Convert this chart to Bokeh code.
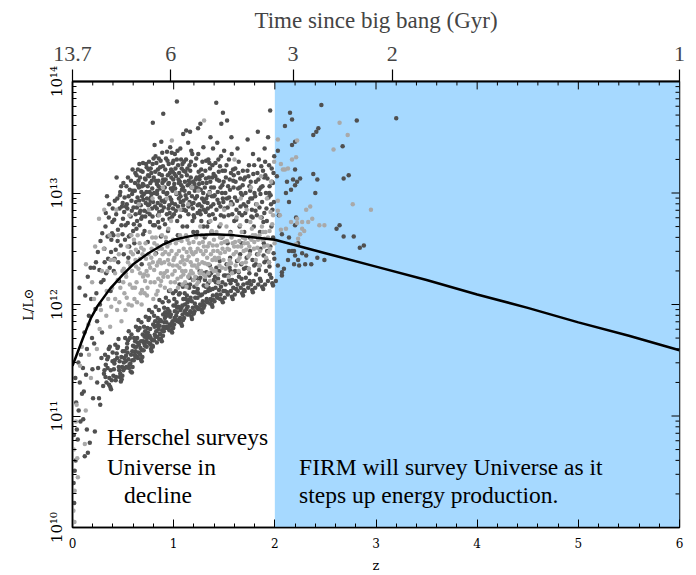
from bokeh.plotting import figure
from bokeh.models import (ColumnDataSource, LinearAxis, LogAxis, FixedTicker,
                          BoxAnnotation, Label, CustomJSTickFormatter)
from bokeh.embed import file_html
from bokeh.resources import INLINE

# ---------------- data (z, log10 L/Lsun) ----------------
curve_z = [0.0, 0.05, 0.1, 0.18, 0.25, 0.37, 0.5, 0.6, 0.75, 0.9, 1.0, 1.2, 1.4,
           1.6, 1.8, 2.0, 2.5, 3.0, 3.5, 4.0, 4.5, 5.0, 5.5, 6.0]
curve_logL = [11.45, 11.57, 11.69, 11.875, 11.99, 12.14, 12.27, 12.36, 12.46, 12.54,
              12.58, 12.62, 12.63, 12.62, 12.60, 12.58, 12.46, 12.34, 12.22, 12.09,
              11.97, 11.84, 11.72, 11.59]

dark_lowz = [
    (0.008, 10.05), (0.017, 10.22), (0.011, 10.40), (0.031, 10.60), (0.022, 10.51), (0.043, 10.88),
    (0.052, 10.79), (0.061, 11.05), (0.072, 11.30), (0.083, 11.55), (0.069, 12.15), (0.094, 11.20),
    (0.028, 11.34), (0.079, 10.95), (0.103, 11.43), (0.134, 11.37), (0.106, 10.97), (0.121, 10.64),
    (0.152, 10.67), (0.171, 10.76), (0.143, 11.60), (0.118, 11.75), (0.162, 11.90), (0.184, 12.05),
    (0.193, 11.70), (0.151, 12.25), (0.179, 12.33), (0.112, 11.22), (0.212, 12.33), (0.203, 11.16),
    (0.221, 10.86), (0.253, 11.43), (0.262, 11.16), (0.274, 11.10), (0.214, 11.65), (0.243, 11.85),
    (0.271, 12.00), (0.232, 12.38), (0.251, 12.47), (0.283, 12.20), (0.292, 11.75), (0.236, 12.10),
    (0.277, 12.57), (0.294, 12.64), (0.142, 10.88), (0.244, 11.30), (0.013, 10.83), (0.036, 11.12),
    (0.058, 11.48), (0.126, 12.08), (0.197, 11.42), (0.286, 11.52), (0.266, 12.31), (0.227, 11.96),
]

dark_band = [
    (0.303, 11.27), (0.347, 11.43), (0.381, 11.24), (0.322, 11.55), (0.364, 11.34), (0.395, 11.49),
    (0.336, 11.30), (0.358, 11.60), (0.311, 11.38), (0.373, 11.26), (0.329, 11.46), (0.388, 11.32),
    (0.352, 11.53), (0.316, 11.41), (0.369, 11.62),
    (0.404, 11.36), (0.441, 11.52), (0.486, 11.33), (0.423, 11.64), (0.462, 11.41), (0.497, 11.58),
    (0.431, 11.35), (0.455, 11.69), (0.414, 11.47), (0.478, 11.31), (0.437, 11.56), (0.491, 11.44),
    (0.449, 11.62), (0.418, 11.50), (0.472, 11.38), (0.466, 11.49),
    (0.502, 11.41), (0.544, 11.57), (0.587, 11.39), (0.521, 11.70), (0.563, 11.46), (0.598, 11.63),
    (0.533, 11.44), (0.556, 11.76), (0.512, 11.52), (0.575, 11.40), (0.538, 11.61), (0.591, 11.50),
    (0.549, 11.68), (0.517, 11.58), (0.571, 11.47), (0.583, 11.73), (0.526, 11.49),
    (0.606, 11.50), (0.643, 11.66), (0.684, 11.49), (0.627, 11.80), (0.661, 11.56), (0.694, 11.73),
    (0.635, 11.53), (0.652, 11.86), (0.613, 11.62), (0.676, 11.51), (0.639, 11.70), (0.688, 11.59),
    (0.648, 11.77), (0.619, 11.67), (0.668, 11.55), (0.681, 11.84), (0.624, 11.58), (0.657, 11.64),
    (0.703, 11.59), (0.745, 11.75), (0.782, 11.58), (0.724, 11.89), (0.766, 11.65), (0.797, 11.82),
    (0.733, 11.62), (0.757, 11.95), (0.712, 11.71), (0.776, 11.60), (0.741, 11.79), (0.789, 11.68),
    (0.751, 11.86), (0.718, 11.76), (0.771, 11.64), (0.786, 11.93), (0.727, 11.67), (0.762, 11.72),
    (0.805, 11.68), (0.846, 11.84), (0.883, 11.67), (0.822, 11.98), (0.864, 11.74), (0.896, 11.91),
    (0.838, 11.71), (0.859, 12.04), (0.811, 11.80), (0.874, 11.69), (0.842, 11.88), (0.887, 11.77),
    (0.853, 11.95), (0.817, 11.85), (0.869, 11.73), (0.891, 12.02), (0.828, 11.76), (0.861, 11.81),
    (0.902, 11.76), (0.944, 11.92), (0.985, 11.75), (0.923, 12.06), (0.961, 11.82), (0.998, 11.99),
    (0.936, 11.79), (0.954, 12.12), (0.913, 11.88), (0.977, 11.77), (0.941, 11.96), (0.989, 11.85),
    (0.951, 12.03), (0.916, 11.93), (0.968, 11.81), (0.994, 12.10), (0.927, 11.84), (0.966, 11.89),
    (1.004, 11.82), (1.046, 11.98), (1.082, 11.81), (1.021, 12.12), (1.063, 11.88), (1.095, 12.05),
    (1.037, 11.85), (1.058, 12.18), (1.011, 11.94), (1.074, 11.83), (1.029, 12.02), (1.088, 11.91),
    (1.052, 12.09), (1.016, 11.99), (1.069, 11.87), (1.091, 12.16), (1.025, 11.90), (1.066, 11.95),
    (1.103, 11.88), (1.147, 12.04), (1.181, 11.87), (1.122, 12.18), (1.164, 11.94), (1.196, 12.11),
    (1.135, 11.91), (1.157, 12.24), (1.112, 12.00), (1.176, 11.89), (1.131, 12.08), (1.189, 11.97),
    (1.153, 12.15), (1.118, 12.05), (1.171, 11.93), (1.192, 12.22), (1.127, 11.96),
    (1.206, 11.94), (1.243, 12.10), (1.284, 11.93), (1.225, 12.24), (1.262, 12.00), (1.297, 12.17),
    (1.234, 11.97), (1.256, 12.30), (1.213, 12.06), (1.277, 11.95), (1.238, 12.14), (1.289, 12.03),
    (1.251, 12.21), (1.219, 12.11), (1.271, 11.99), (1.293, 12.28),
    (1.304, 11.99), (1.346, 12.15), (1.383, 11.98), (1.324, 12.29), (1.365, 12.05), (1.396, 12.22),
    (1.336, 12.02), (1.357, 12.35), (1.312, 12.11), (1.378, 12.00), (1.341, 12.19), (1.388, 12.08),
    (1.352, 12.26), (1.318, 12.16), (1.372, 12.04),
    (1.403, 12.03), (1.444, 12.19), (1.486, 12.02), (1.422, 12.33), (1.463, 12.09), (1.498, 12.26),
    (1.433, 12.06), (1.455, 12.39), (1.414, 12.15), (1.477, 12.04), (1.439, 12.23), (1.491, 12.12),
    (1.451, 12.30), (1.417, 12.20),
    (1.505, 12.06), (1.547, 12.22), (1.584, 12.05), (1.523, 12.36), (1.566, 12.12), (1.597, 12.29),
    (1.535, 12.09), (1.558, 12.42), (1.512, 12.18), (1.576, 12.07), (1.541, 12.26), (1.589, 12.15),
    (1.553, 12.33),
    (1.604, 12.09), (1.645, 12.25), (1.686, 12.08), (1.626, 12.39), (1.663, 12.15), (1.695, 12.32),
    (1.634, 12.12), (1.657, 12.45), (1.614, 12.21), (1.677, 12.10), (1.642, 12.29), (1.689, 12.18),
    (1.703, 12.12), (1.748, 12.28), (1.783, 12.11), (1.721, 12.42), (1.765, 12.18), (1.796, 12.35),
    (1.737, 12.15), (1.755, 12.48), (1.713, 12.24), (1.776, 12.13), (1.742, 12.32),
    (1.806, 12.15), (1.844, 12.31), (1.885, 12.14), (1.825, 12.45), (1.862, 12.21), (1.897, 12.38),
    (1.836, 12.18), (1.858, 12.50), (1.815, 12.27), (1.874, 12.16), (1.849, 12.35),
    (1.903, 12.18), (1.947, 12.34), (1.982, 12.17), (1.924, 12.48), (1.965, 12.24), (1.995, 12.41),
    (1.932, 12.21), (1.956, 12.52), (1.913, 12.30), (1.975, 12.19), (1.941, 12.38),
    (0.458, 11.44), (0.493, 11.36), (0.529, 11.54), (0.558, 11.43), (0.591, 11.58), (0.617, 11.55),
    (0.646, 11.52), (0.672, 11.61), (0.698, 11.67), (0.709, 11.65), (0.737, 11.70), (0.768, 11.78),
    (0.792, 11.63), (0.813, 11.73), (0.834, 11.66), (0.866, 11.86), (0.894, 11.72), (0.908, 11.84),
    (0.931, 11.80), (0.958, 11.94), (0.983, 11.83), (1.008, 11.88), (1.033, 11.93), (1.059, 11.84),
    (1.086, 11.99), (1.108, 11.94), (1.139, 11.98), (1.167, 12.06), (1.194, 11.92), (1.209, 12.01),
    (1.241, 11.96), (1.266, 12.08), (1.298, 12.00), (1.327, 12.05), (1.361, 12.13), (1.392, 12.04),
    (1.427, 12.09), (1.468, 12.16), (1.508, 12.12), (1.562, 12.19), (1.618, 12.14), (1.671, 12.23),
    (1.727, 12.19), (1.791, 12.21),
    (0.326, 11.35), (0.343, 11.51), (0.361, 11.28), (0.378, 11.41), (0.397, 11.57), (0.409, 11.42),
    (0.427, 11.32), (0.444, 11.61), (0.468, 11.35), (0.483, 11.53), (0.507, 11.48), (0.519, 11.43),
    (0.541, 11.65), (0.552, 11.51), (0.568, 11.70), (0.579, 11.55), (0.594, 11.44), (0.609, 11.70),
    (0.621, 11.53), (0.633, 11.62), (0.654, 11.57), (0.664, 11.79), (0.678, 11.67), (0.691, 11.53),
    (0.707, 11.80), (0.716, 11.63), (0.729, 11.73), (0.748, 11.66), (0.759, 11.88), (0.773, 11.70),
    (0.794, 11.62), (0.807, 11.90), (0.819, 11.71), (0.831, 11.81), (0.851, 11.78), (0.857, 11.69),
    (0.877, 11.85), (0.898, 11.80), (0.906, 11.97), (0.919, 11.79), (0.933, 11.90), (0.947, 11.80),
    (0.958, 11.77), (0.973, 11.91), (0.996, 11.79), (1.006, 12.05), (1.019, 11.86), (1.034, 11.97),
    (1.049, 11.86), (1.061, 12.10), (1.077, 11.97), (1.093, 11.86), (1.109, 12.10), (1.124, 11.92),
    (1.137, 12.02), (1.151, 11.91), (1.162, 12.18), (1.179, 12.03), (1.199, 11.92), (1.204, 12.16),
    (1.221, 11.98), (1.236, 12.06), (1.254, 11.96), (1.264, 12.24), (1.281, 12.09), (1.296, 11.97),
    (1.309, 12.22), (1.327, 12.03), (1.339, 12.12), (1.361, 12.01), (1.369, 12.28), (1.386, 12.14),
    (1.408, 12.25), (1.426, 12.07), (1.448, 12.13), (1.459, 12.05), (1.482, 12.20), (1.514, 12.26),
    (1.531, 12.11), (1.562, 12.30), (1.579, 12.22), (1.607, 12.30), (1.632, 12.18), (1.668, 12.36),
    (1.694, 12.13), (1.716, 12.33), (1.752, 12.21), (1.779, 12.40), (1.812, 12.36), (1.853, 12.23),
    (1.889, 12.44), (1.918, 12.40), (1.951, 12.27), (1.988, 12.46),
]

dark_cloud = [
    (0.307, 12.22), (0.352, 12.41), (0.384, 12.58), (0.326, 12.70), (0.368, 12.33), (0.398, 12.86),
    (0.341, 12.97), (0.315, 12.50), (0.377, 12.12), (0.359, 12.78), (0.333, 12.28), (0.391, 12.64),
    (0.408, 12.30), (0.446, 12.57), (0.483, 12.71), (0.427, 12.49), (0.465, 12.86), (0.418, 12.93),
    (0.472, 13.01), (0.494, 12.63), (0.436, 13.14), (0.452, 12.38), (0.499, 12.77), (0.481, 13.06),
    (0.461, 12.21), (0.412, 12.76), (0.443, 12.95), (0.489, 12.88),
    (0.506, 12.45), (0.524, 12.71), (0.542, 12.86), (0.557, 12.61), (0.566, 13.03), (0.583, 12.93),
    (0.594, 13.21), (0.575, 12.79), (0.533, 13.06), (0.552, 12.42), (0.599, 12.66), (0.578, 13.11),
    (0.515, 12.96), (0.561, 12.52), (0.537, 12.90), (0.589, 12.99), (0.548, 13.14), (0.511, 12.83),
    (0.611, 12.55), (0.624, 12.81), (0.643, 12.96), (0.652, 13.11), (0.664, 12.71), (0.681, 13.01),
    (0.693, 13.19), (0.675, 12.89), (0.633, 13.16), (0.698, 12.63), (0.616, 13.02), (0.661, 13.26),
    (0.689, 12.79), (0.647, 12.47), (0.684, 12.36), (0.628, 12.92), (0.657, 13.05), (0.671, 12.84),
    (0.638, 12.75), (0.695, 13.08),
    (0.712, 12.66), (0.724, 12.91), (0.743, 13.06), (0.751, 13.21), (0.763, 12.81), (0.784, 13.11),
    (0.792, 13.26), (0.775, 12.96), (0.733, 13.23), (0.794, 13.63), (0.798, 12.71), (0.716, 13.13),
    (0.762, 13.01), (0.786, 12.86), (0.744, 12.56), (0.801, 13.31), (0.727, 13.26), (0.738, 12.83),
    (0.757, 13.15), (0.771, 12.93), (0.706, 12.99), (0.779, 13.18), (0.766, 12.74),
    (0.811, 13.43), (0.878, 13.46), (0.853, 13.31), (0.871, 13.29), (0.897, 13.71), (0.822, 13.11),
    (0.844, 13.21), (0.862, 12.96), (0.884, 13.16), (0.833, 12.86), (0.851, 13.06), (0.893, 12.76),
    (0.814, 12.71), (0.874, 12.61), (0.842, 12.91), (0.899, 13.01), (0.866, 13.23), (0.826, 12.46),
    (0.838, 13.02), (0.857, 12.83), (0.881, 12.93), (0.818, 13.19), (0.889, 13.09), (0.847, 12.74),
    (0.912, 13.05), (0.924, 13.31), (0.942, 13.16), (0.963, 12.96), (0.981, 13.36), (0.998, 13.29),
    (0.991, 13.19), (0.933, 12.81), (0.951, 13.26), (0.972, 13.04), (0.993, 12.86), (0.914, 12.72),
    (0.966, 13.41), (0.944, 12.66), (0.984, 12.91), (0.905, 13.11), (0.926, 12.56), (0.937, 13.00),
    (0.956, 12.89), (0.977, 13.14), (0.918, 12.94), (0.947, 13.08), (0.988, 13.02), (0.959, 12.77),
    (1.032, 13.82), (1.012, 13.35), (1.023, 13.15), (1.044, 13.25), (1.052, 12.95), (1.061, 13.10),
    (1.073, 13.30), (1.084, 12.85), (1.092, 13.05), (1.098, 13.20), (1.035, 12.75), (1.066, 13.40),
    (1.089, 12.70), (1.014, 12.90), (1.056, 13.00), (1.078, 13.15), (1.041, 12.62), (1.094, 13.53),
    (1.006, 13.08), (1.027, 12.99), (1.048, 13.12), (1.069, 12.92), (1.081, 13.03), (1.018, 13.22),
    (1.111, 13.10), (1.122, 13.30), (1.143, 13.45), (1.152, 13.00), (1.164, 13.20), (1.173, 12.90),
    (1.184, 13.35), (1.192, 13.10), (1.198, 12.80), (1.133, 12.70), (1.156, 13.25), (1.177, 13.05),
    (1.194, 12.65), (1.126, 12.95), (1.162, 13.55), (1.186, 12.75), (1.124, 13.56), (1.104, 12.85),
    (1.138, 13.07), (1.147, 12.88), (1.169, 13.14), (1.181, 12.97), (1.116, 13.19),
    (1.212, 13.25), (1.224, 13.05), (1.243, 13.35), (1.252, 12.90), (1.261, 13.15), (1.273, 12.75),
    (1.284, 13.28), (1.292, 13.00), (1.299, 12.85), (1.232, 12.65), (1.264, 13.62), (1.295, 12.70),
    (1.214, 12.95), (1.255, 13.12), (1.281, 12.95), (1.241, 13.58), (1.206, 13.08), (1.236, 12.82),
    (1.247, 13.19), (1.268, 13.03), (1.277, 12.88), (1.227, 13.14),
    (1.313, 13.20), (1.322, 12.95), (1.343, 13.30), (1.351, 12.80), (1.362, 13.10), (1.374, 12.65),
    (1.383, 13.25), (1.392, 12.90), (1.398, 13.05), (1.332, 12.70), (1.364, 13.50), (1.307, 12.60),
    (1.389, 13.40), (1.326, 13.09), (1.337, 12.86), (1.348, 13.14), (1.356, 13.01), (1.378, 12.97),
    (1.317, 12.83),
    (1.411, 13.15), (1.423, 12.85), (1.442, 13.30), (1.452, 12.70), (1.463, 13.05), (1.474, 12.60),
    (1.483, 13.20), (1.491, 12.92), (1.499, 13.38), (1.431, 13.45), (1.466, 12.80), (1.494, 13.10),
    (1.421, 13.81), (1.487, 13.72), (1.471, 13.62), (1.405, 12.98), (1.436, 13.01), (1.447, 12.91),
    (1.458, 13.24), (1.478, 13.00),
    (1.511, 13.00), (1.522, 13.25), (1.543, 12.80), (1.554, 13.12), (1.562, 12.65), (1.574, 13.35),
    (1.583, 12.90), (1.592, 13.05), (1.599, 12.75), (1.533, 12.55), (1.571, 13.50), (1.528, 13.65),
    (1.505, 12.86), (1.538, 13.06), (1.548, 12.96), (1.566, 13.18), (1.587, 13.21),
    (1.612, 13.10), (1.621, 12.85), (1.643, 13.28), (1.652, 12.70), (1.664, 13.00), (1.673, 12.55),
    (1.684, 13.20), (1.692, 12.90), (1.698, 12.65), (1.631, 13.40), (1.606, 12.96), (1.637, 13.04),
    (1.648, 12.82), (1.658, 13.13), (1.677, 12.98),
    (1.711, 13.00), (1.722, 12.75), (1.744, 13.25), (1.753, 12.60), (1.762, 13.10), (1.773, 12.85),
    (1.784, 13.35), (1.792, 12.70), (1.799, 13.00), (1.731, 13.48), (1.706, 13.14), (1.738, 12.92),
    (1.749, 13.06), (1.768, 12.79), (1.787, 13.17),
    (1.812, 13.10), (1.823, 12.80), (1.842, 13.30), (1.853, 12.65), (1.861, 13.05), (1.874, 12.92),
    (1.883, 13.20), (1.891, 12.55), (1.899, 13.40), (1.832, 13.55), (1.806, 12.97), (1.837, 13.12),
    (1.848, 12.87), (1.866, 13.24), (1.887, 12.74),
    (1.912, 13.00), (1.921, 12.75), (1.943, 13.25), (1.954, 13.74), (1.962, 12.90), (1.971, 13.10),
    (1.983, 12.60), (1.994, 13.33), (1.933, 13.50), (1.976, 12.85), (1.906, 13.16), (1.938, 12.96),
    (1.948, 13.06), (1.966, 12.70), (1.987, 13.18),
    (0.603, 12.87), (0.618, 13.09), (0.632, 12.68), (0.646, 13.21), (0.659, 12.93), (0.667, 13.14),
    (0.679, 12.77), (0.686, 13.06), (0.699, 12.94), (0.704, 13.07), (0.719, 12.79), (0.731, 13.01),
    (0.748, 12.89), (0.756, 13.28), (0.769, 13.09), (0.781, 12.99), (0.791, 12.79), (0.803, 13.14),
    (0.816, 12.88), (0.829, 13.27), (0.836, 12.99), (0.849, 13.11), (0.858, 12.69), (0.869, 13.04),
    (0.886, 12.84), (0.894, 13.24), (0.903, 12.87), (0.917, 13.21), (0.929, 12.99), (0.939, 13.29),
    (0.953, 13.09), (0.961, 12.82), (0.975, 13.21), (0.986, 12.79), (0.996, 13.12), (1.003, 12.81),
    (1.015, 13.04), (1.031, 13.30), (1.043, 12.88), (1.054, 13.18), (1.063, 12.79), (1.076, 13.07),
    (1.087, 13.26), (1.097, 12.93), (1.107, 13.02), (1.121, 12.84), (1.136, 13.22), (1.149, 13.11),
    (1.158, 12.92), (1.171, 13.28), (1.188, 13.05), (1.196, 12.91), (1.203, 12.78), (1.218, 13.12),
    (1.231, 12.97), (1.246, 13.04), (1.259, 12.84), (1.272, 13.21), (1.286, 13.09), (1.297, 12.93),
    (1.308, 13.05), (1.321, 13.29), (1.335, 12.91), (1.347, 12.74), (1.359, 13.22), (1.371, 13.05),
    (1.386, 12.81), (1.395, 13.17), (1.409, 12.77), (1.428, 13.12), (1.446, 13.19), (1.462, 12.88),
    (1.481, 13.07), (1.497, 12.79), (1.516, 13.14), (1.534, 12.87), (1.557, 13.03), (1.579, 12.81),
    (1.594, 13.16), (1.618, 12.76), (1.639, 13.18), (1.661, 12.88), (1.682, 13.07), (1.716, 12.88),
    (1.739, 13.15), (1.758, 12.95), (1.781, 12.78), (1.816, 12.90), (1.846, 13.03), (1.869, 12.78),
    (1.894, 13.14), (1.917, 12.86), (1.945, 13.00), (1.969, 13.22), (1.991, 12.92),
    (0.318, 12.38), (0.329, 12.82), (0.347, 12.61), (0.362, 12.90), (0.381, 12.47), (0.394, 12.74),
    (0.404, 12.62), (0.416, 12.41), (0.432, 12.81), (0.449, 12.67), (0.468, 12.98), (0.477, 12.53),
    (0.496, 12.91), (0.503, 13.09), (0.519, 12.58), (0.528, 12.88), (0.546, 12.73), (0.554, 12.97),
    (0.571, 12.62), (0.586, 12.84), (0.597, 13.02), (0.606, 12.72), (0.621, 13.18), (0.637, 12.87),
    (0.649, 13.07), (0.663, 12.82), (0.676, 13.20), (0.688, 12.97), (0.697, 13.27), (0.709, 12.84),
    (0.722, 13.12), (0.736, 12.95), (0.747, 13.16), (0.759, 12.90), (0.773, 13.22), (0.788, 13.04),
    (0.796, 12.92), (0.808, 13.00), (0.821, 13.33), (0.834, 13.08), (0.845, 12.80), (0.859, 13.17),
    (0.873, 12.89), (0.887, 13.36), (0.896, 13.12), (0.909, 12.92), (0.921, 13.12), (0.934, 13.37),
    (0.949, 12.86), (0.962, 13.18), (0.976, 12.94), (0.989, 13.27), (0.997, 13.05), (1.009, 13.17),
    (1.021, 12.84), (1.038, 13.38), (1.051, 13.09), (1.068, 12.97), (1.079, 13.22), (1.093, 12.89),
    (1.102, 13.28), (1.118, 12.98), (1.131, 13.16), (1.146, 12.81), (1.159, 13.09), (1.174, 13.38),
    (1.189, 12.86), (1.209, 13.02), (1.223, 13.31), (1.238, 12.89), (1.251, 13.08), (1.266, 12.81),
    (1.283, 13.16), (1.294, 13.41), (1.304, 12.92), (1.319, 13.13), (1.338, 12.98), (1.353, 13.27),
    (1.368, 12.88), (1.381, 13.14), (1.397, 12.97), (1.413, 13.27), (1.433, 12.94), (1.449, 13.11),
    (1.468, 13.33), (1.486, 12.95), (1.507, 13.20), (1.527, 12.95), (1.546, 13.30), (1.568, 12.92),
    (1.589, 13.11), (1.609, 13.22), (1.627, 12.93), (1.654, 13.05), (1.676, 12.80), (1.694, 13.12),
    (1.708, 12.82), (1.729, 13.20), (1.756, 13.02), (1.776, 12.95), (1.796, 13.25), (1.809, 12.84),
    (1.828, 13.18), (1.858, 12.99), (1.878, 13.06), (1.896, 12.82), (1.904, 13.28), (1.927, 13.13),
    (1.958, 12.98), (1.981, 13.09),
]

dark_highz = [
    (2.46, 13.79), (2.15, 13.72), (2.17, 13.66), (2.10, 13.60), (2.81, 13.65), (3.20, 13.67),
    (2.43, 13.58), (2.41, 13.55), (2.38, 13.52), (2.20, 13.46), (2.17, 13.43), (2.67, 13.42),
    (2.20, 13.21), (2.38, 13.17), (2.42, 13.12), (2.68, 13.13), (2.73, 13.16), (2.25, 13.13),
    (2.18, 13.12), (2.22, 13.10), (2.12, 13.10), (2.20, 13.07), (2.16, 13.03), (2.11, 13.00),
    (2.40, 13.00), (2.14, 12.92), (2.21, 12.78), (2.20, 12.71), (2.64, 12.71), (2.61, 12.68),
    (2.68, 12.61), (2.78, 12.61), (2.88, 12.53), (2.84, 12.51), (2.14, 12.60), (2.07, 12.63),
    (2.23, 12.55), (2.14, 12.48), (2.17, 12.48), (2.19, 12.48), (2.27, 12.46), (2.20, 12.44),
    (2.31, 12.44), (2.42, 12.42), (2.49, 12.40), (2.23, 12.40), (2.13, 12.40), (2.19, 12.36),
    (2.24, 12.35), (2.30, 12.36), (2.36, 12.36), (2.09, 12.32), (2.07, 12.29), (2.07, 12.26),
    (2.03, 12.35), (2.01, 12.21), (2.03, 13.38), (2.02, 13.15), (2.04, 12.80),
]

light_lowz = [
    (0.009, 10.15), (0.021, 10.33), (0.012, 10.70), (0.034, 10.95), (0.041, 11.10), (0.053, 10.45),
    (0.074, 11.45), (0.182, 11.34), (0.131, 11.05), (0.122, 10.75), (0.133, 12.36), (0.163, 11.55),
    (0.194, 12.20), (0.262, 12.77), (0.241, 11.60), (0.281, 11.95), (0.213, 12.05), (0.291, 12.30),
    (0.019, 10.05), (0.092, 11.62), (0.047, 10.62), (0.157, 11.82), (0.224, 12.52), (0.268, 11.78),
]

light_mid = [
    (0.314, 12.85), (0.353, 12.05), (0.372, 11.80), (0.392, 12.15), (0.334, 11.90), (0.309, 12.50),
    (0.366, 12.62), (0.345, 12.30), (0.383, 11.98),
    (0.422, 12.05), (0.441, 11.95), (0.473, 12.15), (0.493, 12.30), (0.452, 12.62), (0.433, 12.85),
    (0.484, 11.85), (0.411, 12.40), (0.463, 12.02), (0.447, 12.22),
    (0.513, 12.10), (0.531, 12.25), (0.554, 12.00), (0.572, 12.35), (0.593, 12.15), (0.544, 12.52),
    (0.582, 12.62), (0.523, 11.95), (0.562, 12.80), (0.597, 12.45), (0.536, 12.06), (0.567, 12.18),
    (0.507, 12.32), (0.586, 11.99),
    (0.612, 12.05), (0.633, 12.20), (0.652, 12.32), (0.674, 12.10), (0.692, 12.45), (0.623, 12.40),
    (0.644, 12.62), (0.663, 12.55), (0.683, 12.00), (0.698, 12.25), (0.655, 12.90), (0.618, 12.15),
    (0.638, 12.02), (0.669, 12.28), (0.687, 12.13), (0.607, 12.58),
    (0.713, 12.10), (0.732, 12.30), (0.751, 12.45), (0.772, 12.20), (0.794, 12.38), (0.722, 12.55),
    (0.741, 12.15), (0.763, 12.65), (0.782, 12.50), (0.799, 12.05), (0.754, 12.85), (0.791, 12.95),
    (0.708, 12.27), (0.736, 12.08), (0.768, 12.33), (0.727, 12.41),
    (0.812, 12.20), (0.834, 12.35), (0.852, 12.50), (0.873, 12.28), (0.891, 12.45), (0.823, 12.60),
    (0.842, 12.12), (0.863, 12.40), (0.884, 12.62), (0.898, 12.25), (0.856, 12.80), (0.893, 13.05),
    (0.807, 12.31), (0.838, 12.53), (0.868, 12.17), (0.879, 12.37), (0.828, 12.09),
    (0.913, 12.15), (0.934, 12.30), (0.953, 12.45), (0.971, 12.20), (0.992, 12.35), (0.922, 12.60),
    (0.943, 12.25), (0.962, 12.55), (0.982, 13.47), (0.998, 12.40), (0.974, 12.75), (0.932, 12.95),
    (0.907, 12.38), (0.938, 12.52), (0.966, 12.13), (0.987, 12.27), (0.948, 12.68),
    (1.013, 12.20), (1.034, 12.35), (1.052, 12.48), (1.073, 12.25), (1.092, 12.40), (1.022, 12.55),
    (1.043, 12.15), (1.063, 12.62), (1.083, 12.30), (1.099, 12.50), (1.066, 12.85), (1.024, 13.00),
    (1.007, 12.42), (1.038, 12.23), (1.057, 12.33), (1.078, 12.57), (1.088, 12.18),
    (1.113, 12.20), (1.132, 12.40), (1.153, 12.55), (1.172, 12.30), (1.193, 12.45), (1.122, 12.62),
    (1.143, 12.25), (1.164, 12.50), (1.183, 12.35), (1.198, 12.22), (1.144, 12.90), (1.182, 13.05),
    (1.106, 12.36), (1.137, 12.58), (1.158, 12.27), (1.177, 12.47), (1.127, 12.16),
    (1.214, 12.25), (1.232, 12.40), (1.253, 12.55), (1.272, 12.30), (1.293, 12.45), (1.222, 12.60),
    (1.243, 12.20), (1.263, 12.70), (1.283, 12.38), (1.299, 12.52), (1.244, 13.02), (1.301, 13.65),
    (1.207, 12.35), (1.238, 12.50), (1.258, 12.28), (1.277, 12.62), (1.227, 12.18),
    (1.313, 12.25), (1.331, 12.42), (1.353, 12.55), (1.372, 12.32), (1.392, 12.48), (1.322, 12.62),
    (1.343, 12.28), (1.364, 12.75), (1.383, 12.40), (1.398, 12.58), (1.354, 13.00), (1.306, 12.37),
    (1.337, 12.52), (1.358, 12.21), (1.377, 12.66), (1.327, 12.17),
    (1.412, 12.30), (1.434, 12.48), (1.453, 12.35), (1.472, 12.55), (1.492, 12.40), (1.423, 12.65),
    (1.443, 12.20), (1.464, 12.72), (1.483, 12.50), (1.499, 12.85), (1.407, 12.42), (1.438, 12.27),
    (1.458, 12.60), (1.477, 12.33), (1.428, 12.53),
    (1.513, 12.32), (1.532, 12.50), (1.553, 12.40), (1.572, 12.60), (1.593, 12.45), (1.522, 12.70),
    (1.543, 12.25), (1.564, 12.90), (1.583, 12.55), (1.601, 13.30), (1.507, 12.47), (1.538, 12.36),
    (1.558, 12.64), (1.577, 12.28),
    (1.613, 12.35), (1.634, 12.52), (1.652, 12.42), (1.673, 12.65), (1.692, 12.48), (1.622, 12.78),
    (1.643, 12.30), (1.663, 12.95), (1.683, 12.60), (1.607, 12.56), (1.638, 12.40), (1.657, 12.71),
    (1.678, 12.37),
    (1.713, 12.38), (1.732, 12.55), (1.752, 12.45), (1.773, 12.68), (1.793, 12.50), (1.722, 12.85),
    (1.743, 12.32), (1.764, 13.05), (1.782, 12.62), (1.707, 12.59), (1.738, 12.43), (1.758, 12.74),
    (1.812, 12.40), (1.834, 12.58), (1.853, 12.48), (1.872, 12.70), (1.893, 12.52), (1.823, 12.90),
    (1.843, 12.35), (1.864, 13.15), (1.883, 12.65), (1.807, 12.62), (1.838, 12.45), (1.858, 12.78),
    (1.913, 12.42), (1.932, 12.60), (1.953, 12.50), (1.974, 12.72), (1.993, 13.28), (1.922, 12.95),
    (1.942, 12.38), (1.963, 13.10), (1.983, 12.80), (1.997, 12.55), (1.907, 12.65), (1.937, 12.47),
    (1.958, 12.83),
    (0.526, 12.28), (0.577, 12.47), (0.628, 12.34), (0.679, 12.51), (0.717, 12.21), (0.759, 12.36),
    (0.788, 12.60), (0.818, 12.45), (0.848, 12.23), (0.883, 12.50), (0.917, 12.47), (0.957, 12.36),
    (0.994, 12.58), (1.028, 12.45), (1.069, 12.38), (1.096, 12.27), (1.129, 12.47), (1.168, 12.38),
    (1.196, 12.56), (1.233, 12.33), (1.267, 12.48), (1.296, 12.27), (1.334, 12.36), (1.368, 12.45),
    (1.397, 12.30), (1.447, 12.42), (1.488, 12.61), (1.527, 12.57), (1.567, 12.37), (1.617, 12.47),
    (1.667, 12.52), (1.717, 12.49), (1.768, 12.58), (1.827, 12.51), (1.877, 12.58), (1.927, 12.53),
    (0.338, 12.12), (0.376, 12.40), (0.421, 12.28), (0.458, 12.45), (0.502, 12.20), (0.548, 12.38),
    (0.589, 12.30), (0.627, 12.49), (0.667, 12.41), (0.704, 12.49), (0.744, 12.26), (0.779, 12.42),
    (0.809, 12.55), (0.847, 12.38), (0.876, 12.21), (0.909, 12.28), (0.944, 12.40), (0.979, 12.48),
    (1.011, 12.30), (1.047, 12.58), (1.082, 12.43), (1.117, 12.30), (1.148, 12.43), (1.189, 12.28),
    (1.219, 12.47), (1.248, 12.36), (1.289, 12.56), (1.318, 12.48), (1.347, 12.36), (1.387, 12.53),
    (1.418, 12.40), (1.462, 12.46), (1.503, 12.56), (1.548, 12.49), (1.598, 12.52), (1.648, 12.57),
    (1.698, 12.55), (1.748, 12.52), (1.797, 12.56), (1.848, 12.62), (1.898, 12.59), (1.948, 12.66),
]

light_highz = [
    (2.64, 13.63), (2.72, 13.52), (2.58, 13.39), (2.22, 13.47), (2.03, 13.48), (2.21, 13.32),
    (2.17, 13.30), (2.06, 13.26), (2.08, 13.21), (2.10, 13.21), (2.13, 13.22), (2.35, 12.88),
    (2.31, 12.85), (2.77, 12.90), (2.95, 12.85), (2.37, 12.77), (2.22, 12.77), (2.16, 12.74),
    (2.27, 12.74), (2.33, 12.74), (2.22, 12.73), (2.44, 12.71), (2.49, 12.71), (2.27, 12.68),
    (2.29, 12.66), (2.25, 12.63), (2.11, 12.68), (2.06, 12.67), (2.23, 12.59), (2.21, 12.54),
    (2.05, 12.80), (2.03, 12.84), (2.03, 12.93),
]

z_major_ticks = [0, 1, 2, 3, 4, 5, 6]
y_decades = [10, 11, 12, 13, 14]
time_tick_z = [0.0, 0.97, 2.18, 3.16, 6.0]
time_tick_labels = ["13.7", "6", "3", "2", "1"]
firm_z_range = (2.0, 6.0)

# ---------------- figure ----------------
def src(points):
    return ColumnDataSource(dict(z=[pt[0] for pt in points],
                                 L=[10.0 ** pt[1] for pt in points]))

W, H = 690, 575
BL, BR, BT, BB = 72, 11, 81, 44
p = figure(width=W, height=H, x_range=(0, 6), y_range=(1e10, 1e14),
           y_axis_type="log", x_axis_location=None, y_axis_location=None,
           output_backend="svg", toolbar_location=None,
           min_border_left=BL, min_border_right=BR, min_border_top=BT, min_border_bottom=BB)
p.grid.grid_line_color = None
p.outline_line_color = "black"
p.outline_line_width = 1.5
p.background_fill_color = "white"
p.border_fill_color = "white"

SERIF_TICK = "DejaVu Serif"
TIMES = "Liberation Serif"

z_minor = [i * 0.2 for i in range(31)]
y_minor = [m * 10.0 ** k for k in y_decades[:-1] for m in range(2, 10)]
z_ticker = FixedTicker(ticks=z_major_ticks, minor_ticks=z_minor)
y_ticker = FixedTicker(ticks=[10.0 ** k for k in y_decades], minor_ticks=y_minor)

sup_code = r"""
const sup = ["\u2070","\u00b9","\u00b2","\u00b3","\u2074","\u2075","\u2076","\u2077","\u2078","\u2079"];
const e = Math.round(Math.log10(tick));
return "10" + String(e).split("").map(c => sup[+c]).join("");
"""

xb = LinearAxis(ticker=z_ticker, axis_label="z")
yl = LogAxis(ticker=y_ticker, formatter=CustomJSTickFormatter(code=sup_code),
             axis_label="L/L\u2299", major_label_orientation="vertical")
for ax in (xb, yl):
    ax.major_tick_in = 8
    ax.major_tick_out = 0
    ax.minor_tick_in = 4
    ax.minor_tick_out = 0
    ax.axis_line_color = "black"
    ax.axis_line_width = 1.5
    ax.major_tick_line_color = "black"
    ax.minor_tick_line_color = "black"
    ax.major_label_text_font = SERIF_TICK
    ax.axis_label_text_font = SERIF_TICK
    ax.axis_label_text_font_style = "normal"
    ax.major_label_text_color = "black"
    ax.axis_label_text_color = "black"

xb.major_label_text_font_size = "12px"
xb.major_label_standoff = 10
xb.axis_label_text_font_size = "13px"
xb.axis_label_standoff = 7

yl.major_label_text_font_size = "15px"
yl.major_label_standoff = 7
yl.axis_label_text_font_size = "13px"
yl.axis_label_standoff = 9

time_fmt = CustomJSTickFormatter(args=dict(zs=time_tick_z, labels=time_tick_labels), code="""
const i = zs.findIndex(v => Math.abs(v - tick) < 1e-6);
return i >= 0 ? labels[i] : "";
""")
xtime = LinearAxis(ticker=FixedTicker(ticks=time_tick_z, minor_ticks=[]), formatter=time_fmt,
                   axis_label="Time since big bang (Gyr)")
xtime.major_tick_out = 12
xtime.major_tick_in = 0
xtime.minor_tick_in = 0
xtime.minor_tick_out = 0
xtime.axis_line_width = 2
xtime.major_tick_line_width = 1.2
xtime.major_label_text_font = TIMES
xtime.major_label_text_font_size = "22px"
xtime.major_label_standoff = 9
xtime.axis_label_text_font = TIMES
xtime.axis_label_text_font_size = "23px"
xtime.axis_label_text_font_style = "normal"
xtime.axis_label_standoff = 11

p.add_layout(xb, "below")
p.add_layout(yl, "left")
p.add_layout(xtime, "above")

# FIRM region
p.add_layout(BoxAnnotation(left=firm_z_range[0], right=firm_z_range[1], fill_color="#a6d9ff",
                           fill_alpha=1.0, line_color=None, level="underlay"))

DARK = "#505050"
LIGHT = "#a9a9a9"
for pts in (dark_lowz, dark_band, dark_cloud, dark_highz):
    p.scatter("z", "L", source=src(pts), size=4.5, fill_color=DARK, line_color=None)
for pts in (light_lowz, light_mid, light_highz):
    p.scatter("z", "L", source=src(pts), size=4.5, fill_color=LIGHT, line_color=None)

p.line(curve_z, [10.0 ** v for v in curve_logL], line_color="black", line_width=2.5)

# inward mirror ticks on the top and right frame edges (same tickers as bottom / left)
frame_w = W - BL - BR
frame_h = H - BT - BB
dz_px = 6.0 / frame_w
ddex_px = 4.0 / frame_h
top_maj = [float(t) for t in z_major_ticks]
top_min = [t for t in z_minor if min(abs(t - m) for m in top_maj) > 1e-6]
p.segment(x0=top_maj, x1=top_maj, y0=[1e14] * len(top_maj),
          y1=[10 ** (14 - 8 * ddex_px)] * len(top_maj), line_color="black", line_width=1)
p.segment(x0=top_min, x1=top_min, y0=[1e14] * len(top_min),
          y1=[10 ** (14 - 4 * ddex_px)] * len(top_min), line_color="black", line_width=1)
r_maj = [10.0 ** k for k in y_decades]
p.segment(x0=[6.0] * len(r_maj), x1=[6 - 8 * dz_px] * len(r_maj), y0=r_maj, y1=r_maj,
          line_color="black", line_width=1)
p.segment(x0=[6.0] * len(y_minor), x1=[6 - 4 * dz_px] * len(y_minor), y0=y_minor, y1=y_minor,
          line_color="black", line_width=1)

for txt, zx, lg in [("Herschel surveys", 0.34, 10.81), ("Universe in", 0.34, 10.54),
                    ("decline", 0.51, 10.29),
                    ("FIRM will survey Universe as it", 2.24, 10.54),
                    ("steps up energy production.", 2.24, 10.29)]:
    p.add_layout(Label(x=zx, y=10.0 ** lg, text=txt, text_font=TIMES, text_font_size="23.5px",
                       text_color="black", text_baseline="alphabetic"))

open("out.html", "w", encoding="utf-8").write(file_html(p, INLINE))
